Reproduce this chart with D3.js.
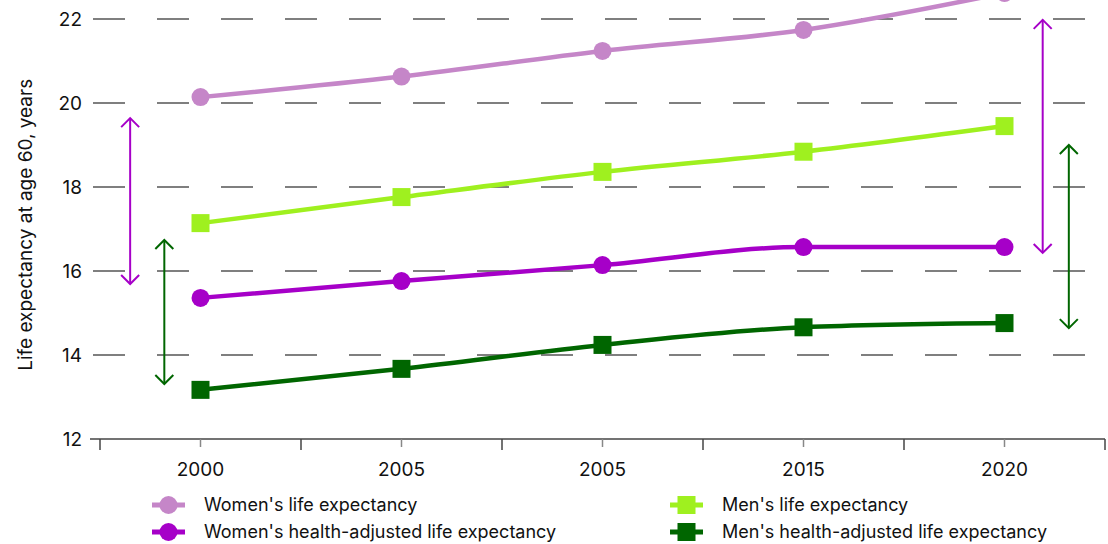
<!DOCTYPE html>
<html>
<head>
<meta charset="utf-8">
<script src="https://cdn.jsdelivr.net/npm/d3@7"></script>
<style>
  body { margin: 0; background: #fff; }
  svg { display: block; font-family: Inter, "Noto Sans", sans-serif; }
</style>
</head>
<body>
<div id="chartDiv"></div>
<script>
// chart data
const years = ["2000", "2005", "2005", "2015", "2020"];
const womenLE = [20.14, 20.63, 21.24, 21.74, 22.62];
const menLE = [17.14, 17.76, 18.36, 18.84, 19.45];
const womenHALE = [15.36, 15.76, 16.14, 16.57, 16.57];
const menHALE = [13.17, 13.67, 14.24, 14.66, 14.76];
const yTicks = [12, 14, 16, 18, 20, 22];

// gap arrows: position in category index units, from/to in years
const arrowPos = [-0.35, -0.18, 4.19, 4.32];
const arrowFrom = [19.64, 16.74, 21.98, 19.0];
const arrowTo = [15.69, 13.31, 16.43, 14.64];
const arrowColor = ["#a600c8", "#006600", "#a600c8", "#006600"];

const series = [
  { name: "Women's life expectancy", values: womenLE, color: "#c586c8", shape: "circle" },
  { name: "Men's life expectancy", values: menLE, color: "#9ff01f", shape: "square" },
  { name: "Women's health-adjusted life expectancy", values: womenHALE, color: "#a600c8", shape: "circle" },
  { name: "Men's health-adjusted life expectancy", values: menHALE, color: "#006600", shape: "square" }
];

const W = 1108, H = 544;
const svg = d3.select('#chartDiv').append('svg').attr('width', W).attr('height', H);

const x = d3.scaleBand().domain(d3.range(years.length)).range([100, 1105]);
const xi = d3.scaleLinear().domain([0, 1]).range([x(0) + x.bandwidth() / 2, x(1) + x.bandwidth() / 2]);
const y = d3.scaleLinear().domain([12, 22]).range([439, 19]);

// dashed gridlines
svg.append('g').selectAll('line')
  .data(yTicks.slice(1))
  .enter().append('line')
  .attr('x1', 93).attr('x2', 1105)
  .attr('y1', d => y(d)).attr('y2', d => y(d))
  .attr('stroke', '#555').attr('stroke-width', 1.5)
  .attr('stroke-dasharray', '32 32');

// y labels
svg.append('g').selectAll('text')
  .data(yTicks)
  .enter().append('text')
  .attr('x', 82).attr('y', d => y(d))
  .attr('dy', '0.35em')
  .attr('text-anchor', 'end')
  .attr('font-size', 19).attr('fill', '#111')
  .text(d => d);

// y title
svg.append('text')
  .attr('transform', `translate(32,${y(17.1)}) rotate(-90)`)
  .attr('text-anchor', 'middle')
  .attr('font-size', 19).attr('fill', '#111')
  .text('Life expectancy at age 60, years');

// x axis
const xg = svg.append('g');
xg.append('line').attr('x1', 90).attr('x2', 1105).attr('y1', y(12)).attr('y2', y(12))
  .attr('stroke', '#444').attr('stroke-width', 1.5);
const edges = d3.range(years.length + 1).map(i => i < years.length ? x(i) : x(i - 1) + x.bandwidth());
xg.selectAll('.major').data(edges).enter().append('line')
  .attr('x1', d => d).attr('x2', d => d)
  .attr('y1', y(12)).attr('y2', y(12) + 11)
  .attr('stroke', '#444').attr('stroke-width', 1.5);
xg.selectAll('.minor').data(years).enter().append('line')
  .attr('x1', (d, i) => xi(i)).attr('x2', (d, i) => xi(i))
  .attr('y1', y(12)).attr('y2', y(12) + 8)
  .attr('stroke', '#888').attr('stroke-width', 1.5);
xg.selectAll('text').data(years).enter().append('text')
  .attr('x', (d, i) => xi(i)).attr('y', 476)
  .attr('text-anchor', 'middle')
  .attr('font-size', 19).attr('fill', '#111')
  .text(d => d);

// lines + markers
const line = d3.line().x((d, i) => xi(i)).y(d => y(d)).curve(d3.curveMonotoneX);

function drawMarker(g, s, cx, cy) {
  if (s.shape === 'circle') {
    g.append('circle').attr('cx', cx).attr('cy', cy).attr('r', 9).attr('fill', s.color);
  } else {
    g.append('rect').attr('x', cx - 9).attr('y', cy - 9).attr('width', 18).attr('height', 18).attr('fill', s.color);
  }
}

series.forEach(s => {
  const g = svg.append('g');
  g.append('path').attr('d', line(s.values))
    .attr('fill', 'none').attr('stroke', s.color).attr('stroke-width', 4.5);
  s.values.forEach((v, i) => drawMarker(g, s, xi(i), y(v)));
});

// gap arrows
function arrow(x0, ya, yb, color) {
  const g = svg.append('g').attr('stroke', color).attr('stroke-width', 2).attr('fill', 'none');
  g.append('line').attr('x1', x0).attr('x2', x0).attr('y1', ya).attr('y2', yb);
  const hw = 9, hh = 9;
  g.append('path').attr('d', `M${x0 - hw},${ya + hh}L${x0},${ya}L${x0 + hw},${ya + hh}`);
  g.append('path').attr('d', `M${x0 - hw},${yb - hh}L${x0},${yb}L${x0 + hw},${yb - hh}`);
}
arrowPos.forEach((p, i) => arrow(xi(p), y(arrowFrom[i]), y(arrowTo[i]), arrowColor[i]));

// legend
const legendOrder = [0, 2, 1, 3];
legendOrder.forEach((si, k) => {
  const s = series[si];
  const col = k < 2 ? 0 : 1;
  const row = k % 2;
  const lx = col === 0 ? 152 : 670;
  const ly = 505 + row * 27;
  const g = svg.append('g');
  g.append('line').attr('x1', lx).attr('x2', lx + 33).attr('y1', ly).attr('y2', ly)
    .attr('stroke', s.color).attr('stroke-width', 5);
  drawMarker(g, s, lx + 16.5, ly);
  g.append('text').attr('x', lx + 52).attr('y', ly).attr('dy', '0.35em')
    .attr('font-size', 18).attr('fill', '#111').text(s.name);
});
</script>
</body>
</html>
